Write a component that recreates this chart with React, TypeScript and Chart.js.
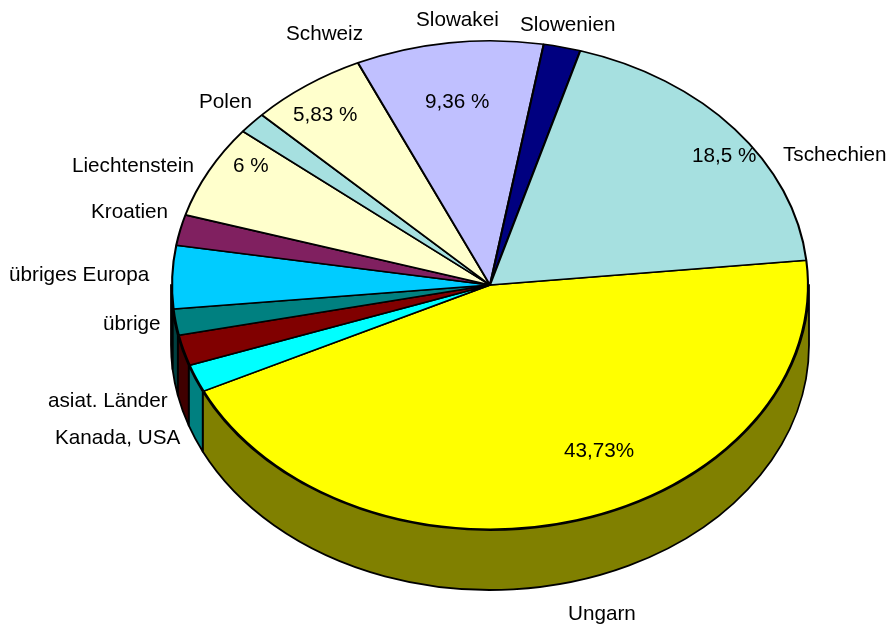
import { useEffect, useRef } from "react";
import { Chart, registerables } from "chart.js";

Chart.register(...registerables);

const categories = ["Ungarn", "Kanada, USA", "asiat. Länder", "übrige", "übriges Europa", "Kroatien", "Liechtenstein", "Polen", "Schweiz", "Slowakei", "Slowenien", "Tschechien"];
const shares = [43.73, 1.8, 2.0, 1.7, 4.1, 2.0, 6.1, 1.4, 5.83, 9.36, 1.85, 18.5];
const faceColors = ["#FFFF00", "#00FFFF", "#800000", "#008080", "#00CCFF", "#802060", "#FFFFCC", "#A6E0E0", "#FFFFCC", "#C0C0FF", "#000080", "#A6E0E0"];
const wallColors = ["#808000", "#008080", "#400000", "#004040", "#006680", "#401030", "#808066", "#537070", "#808066", "#606080", "#000040", "#537070"];
const valueLabels = ["43,73%", "", "", "", "", "", "6 %", "", "5,83 %", "9,36 %", "", "18,5 %"];

// text anchors (left x, baseline y) of the category and value captions
const namePlaces = [[568, 620], [55, 444], [48, 407], [103, 330], [9, 281], [91, 218], [72, 172], [199, 108], [286, 40], [416, 26], [520, 31], [783, 161]];
const valuePlaces = [[564, 457], null, null, null, null, null, [233, 172], null, [293, 121], [425, 108], null, [692, 162]];

const CX = 490;
const CY = 285;
const RY = 245;
const RX = 319;
const DEPTH = 60;

const pie3d = {
  id: "pie3d",
  beforeDatasetsDraw(chart: any) {
    const ctx = chart.ctx;
    const arcs = chart.getDatasetMeta(0).data;
    ctx.save();
    ctx.lineWidth = 1.8;
    ctx.strokeStyle = "#000";
    ctx.lineJoin = "round";
    const TAU = Math.PI * 2;
    arcs.forEach((arc: any, i: number) => {
      const { startAngle, endAngle } = arc.getProps(["startAngle", "endAngle"], true);
      for (const shift of [0, TAU, -TAU]) {
        const a0 = Math.max(startAngle + shift, 0);
        const a1 = Math.min(endAngle + shift, Math.PI);
        if (a1 <= a0) continue;
        ctx.beginPath();
        ctx.ellipse(CX, CY, RX, RY, 0, a0, a1);
        ctx.ellipse(CX, CY + DEPTH, RX, RY, 0, a1, a0, true);
        ctx.closePath();
        ctx.fillStyle = wallColors[i];
        ctx.fill();
        ctx.stroke();
      }
    });
    ctx.restore();
    // stretch the pie itself into the tilted ellipse
    ctx.save();
    ctx.translate(CX, CY);
    ctx.scale(RX / RY, 1);
    ctx.translate(-CX, -CY);
  },
  afterDatasetsDraw(chart: any) {
    const ctx = chart.ctx;
    ctx.restore();
    ctx.save();
    ctx.fillStyle = "#000";
    ctx.font = '20.7px "Liberation Sans", Arial, sans-serif';
    ctx.textAlign = "left";
    ctx.textBaseline = "alphabetic";
    categories.forEach((name, i) => {
      ctx.fillText(name, namePlaces[i][0], namePlaces[i][1]);
      const place = valuePlaces[i];
      if (place) ctx.fillText(valueLabels[i], place[0], place[1]);
    });
    ctx.restore();
  },
};

export default function App() {
  const ref = useRef<HTMLCanvasElement>(null);
  useEffect(() => {
    document.body.style.margin = "0";
    document.body.style.background = "#fff";
    const chart = new Chart(ref.current!, {
      type: "pie",
      data: {
        labels: categories,
        datasets: [{
          data: shares,
          backgroundColor: faceColors,
          borderColor: "#000",
          borderWidth: 1.6,
          borderAlign: "center",
        }],
      },
      options: {
        responsive: false,
        animation: false,
        rotation: 84.2,
        layout: { padding: { left: CX - RY, right: 890 - CX - RY, top: CY - RY, bottom: 627 - CY - RY } },
        plugins: { legend: { display: false }, tooltip: { enabled: false }, title: { display: false } },
      },
      plugins: [pie3d],
    });
    return () => chart.destroy();
  }, []);
  return <canvas ref={ref} width={890} height={627} style={{ display: "block" }} />;
}
